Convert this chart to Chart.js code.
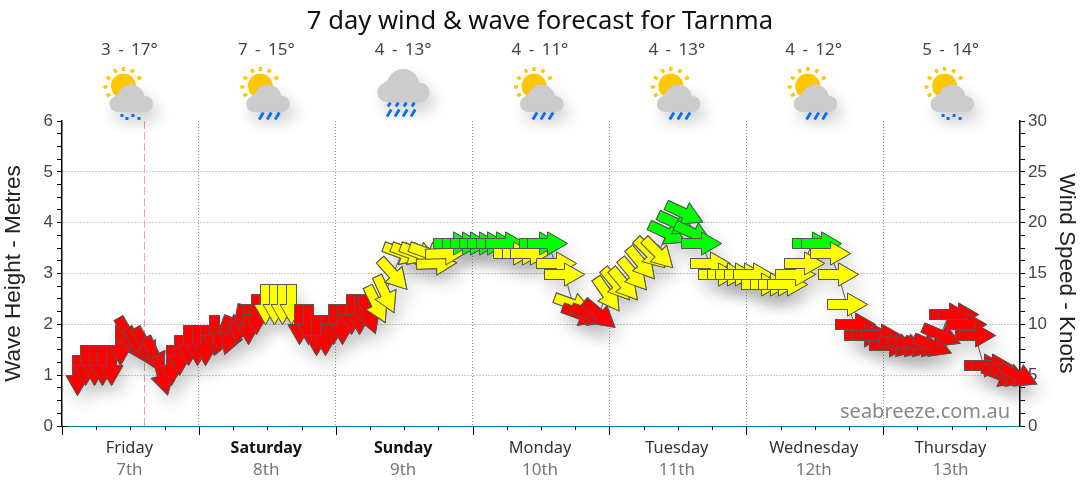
<!DOCTYPE html>
<html>
<head>
<meta charset="utf-8">
<title>7 day wind & wave forecast for Tarnma</title>
<script src="https://cdn.jsdelivr.net/npm/chart.js@4"></script>
<style>
    body { margin: 0; background: #fff; }
    #box { width: 1080px; height: 490px; }
</style>
</head>
<body>
<div id="box"><canvas id="myChart"></canvas></div>
<script>
// forecast values
const dayNames = ["Friday", "Saturday", "Sunday", "Monday", "Tuesday", "Wednesday", "Thursday"];
const dayDates = ["7th", "8th", "9th", "10th", "11th", "12th", "13th"];
const boldDays = ["Saturday", "Sunday"];
const dayTemps = ["3 - 17°", "7 - 15°", "4 - 13°", "4 - 11°", "4 - 13°", "4 - 12°", "5 - 14°"];
const dayIcons = ["drizzle", "rain", "heavy", "rain", "rain", "rain", "drizzle"];
const nowHours = [14.47, 14.47];
const nowKnots = [0, 30];

// hours since Friday 00:00
const hours = [
    2.6, 4.1, 5.6, 7.1, 8.6, 10.1, 11.6, 13.1, 14.6, 16.1, 17.6, 19.1, 20.6, 22.1, 23.6, 25.1,
    26.6, 28.1, 29.6, 31.1, 32.6, 34.1, 35.6, 37.1, 38.6, 40.1, 41.6, 43.1, 44.6, 46.1, 47.6, 49.1,
    50.6, 52.1, 53.6, 55.1, 56.6, 58.1, 59.6, 61.1, 62.6, 64.1, 65.6, 67.1, 68.6, 70.1, 71.6, 73.1,
    74.6, 76.1, 77.6, 79.1, 80.6, 82.1, 83.6, 85.1, 86.6, 88.1, 89.6, 91.1, 92.6, 94.1, 95.6, 97.1,
    98.6, 100.1, 101.6, 103.1, 104.6, 106.1, 107.6, 109.1, 110.6, 112.1, 113.6, 115.1, 116.6, 118.1, 119.6, 121.1,
    122.6, 124.1, 125.6, 127.1, 128.6, 130.1, 131.6, 133.1, 134.6, 136.1, 137.6, 139.1, 140.6, 142.1, 143.6, 145.1,
    146.6, 148.1, 149.6, 151.1, 152.6, 154.1, 155.6, 157.1, 158.6, 160.1, 161.6, 163.1, 164.6, 166.1, 167.6
];
const knots = [
    5, 6, 6, 6, 6, 8, 9, 8, 8, 7, 5, 6, 7, 8, 8, 8,
    9, 9, 9, 10, 10, 11, 12, 12, 12, 12, 10, 10, 9, 9, 10, 10,
    11, 11, 11, 12, 13, 15, 17, 17, 17, 17, 16, 17, 18, 18, 18, 18,
    18, 18, 18, 17, 17, 17, 18, 18, 16, 15, 12, 11, 11, 11, 13, 14,
    14, 15, 16, 17, 17, 19, 20, 21, 19, 18, 16, 15, 15, 15, 15, 15,
    14, 14, 14, 14, 15, 16, 18, 18, 17, 15, 12, 10, 9, 9, 9, 8,
    8, 8, 8, 8, 8, 9, 11, 11, 10, 9, 6, 6, 5, 5, 5
];
// compass direction the arrow points to, degrees
const headings = [
    180, 180, 180, 180, 180, 180, 150, 150, 150, 155, 165, 180, 180, 180, 180, 180,
    180, 200, 200, 190, 180, 180, 180, 180, 180, 180, 180, 180, 180, 180, 180, 180,
    180, 180, 160, 154, 155, 138, 110, 110, 110, 110, 88, 88, 90, 90, 90, 90,
    90, 90, 90, 90, 90, 90, 90, 90, 90, 90, 110, 110, 110, 130, 145, 140,
    140, 140, 140, 135, 135, 115, 115, 115, 115, 90, 90, 90, 90, 90, 90, 90,
    90, 90, 90, 90, 90, 90, 90, 90, 90, 90, 90, 90, 90, 90, 90, 90,
    105, 105, 105, 105, 112, 113, 90, 90, 90, 90, 90, 90, 112, 112, 115
];
const levels = [
    "r", "r", "r", "r", "r", "r", "r", "r", "r", "r", "r", "r", "r", "r", "r", "r",
    "r", "r", "r", "r", "r", "r", "y", "y", "y", "y", "r", "r", "r", "r", "r", "r",
    "r", "r", "r", "y", "y", "y", "y", "y", "y", "y", "y", "y", "g", "g", "g", "g",
    "g", "g", "g", "y", "y", "y", "g", "g", "y", "y", "y", "r", "r", "r", "y", "y",
    "y", "y", "y", "y", "y", "g", "g", "g", "g", "g", "y", "y", "y", "y", "y", "y",
    "y", "y", "y", "y", "y", "y", "g", "g", "y", "y", "y", "r", "r", "r", "r", "r",
    "r", "r", "r", "r", "r", "r", "r", "r", "r", "r", "r", "r", "r", "r", "r"
];
const levelColours = { r: "#ff0000", y: "#ffff00", g: "#00ff00" };

const sans = "'Noto Sans', sans-serif";
const arial = "'Liberation Sans', Arial, sans-serif";

// arrow pictures, one per colour and direction, kept so each is only drawn once
const arrowCache = {};
function makeArrow(colour, heading) {
    const key = colour + heading;
    if (arrowCache[key]) return arrowCache[key];
    const c = document.createElement("canvas");
    c.width = 50;
    c.height = 50;
    const g = c.getContext("2d");
    g.translate(25.5, 25.5);
    g.rotate(heading * Math.PI / 180);
    g.beginPath();
    g.moveTo(0, -20);
    g.lineTo(11.5, 0);
    g.lineTo(5, 0);
    g.lineTo(5, 20);
    g.lineTo(-5, 20);
    g.lineTo(-5, 0);
    g.lineTo(-11.5, 0);
    g.closePath();
    g.fillStyle = colour;
    g.fill();
    g.lineWidth = 1;
    g.lineJoin = "miter";
    g.strokeStyle = "#555";
    g.stroke();
    arrowCache[key] = c;
    return c;
}

const points = hours.map(function (h, i) {
    return { x: h, y: knots[i] };
});
const nowLine = nowHours.map(function (h, i) {
    return { x: h, y: nowKnots[i] };
});

function arrowStyle(ctx) {
    return makeArrow(levelColours[levels[ctx.dataIndex]], headings[ctx.dataIndex]);
}

// whole pixels keep the arrow pictures sharp, the "shadow" dataset also gets a soft shadow
const shadowLayer = {
    id: "shadowLayer",
    beforeDatasetDraw(chart, args) {
        const label = args.meta.label;
        if (label !== "shadow" && label !== "arrows") return;
        args.meta.data.forEach(function (p) {
            p.x = Math.round(p.x);
            p.y = Math.round(p.y);
        });
        if (label !== "shadow") return;
        const ctx = chart.ctx;
        ctx.save();
        ctx.shadowColor = "rgba(0,0,0,0.16)";
        ctx.shadowBlur = 18;
        ctx.shadowOffsetX = 5;
        ctx.shadowOffsetY = 10;
    },
    afterDatasetDraw(chart, args) {
        if (args.meta.label !== "shadow") return;
        chart.ctx.restore();
    },
};

function cloud(ctx, x, y, s) {
    ctx.beginPath();
    [[0, -14, 13.5], [-10, -10, 8.5], [-13.5, -8, 8], [14, -8, 8]].forEach(function (b) {
        ctx.moveTo(x + (b[0] + b[2]) * s, y + b[1] * s);
        ctx.arc(x + b[0] * s, y + b[1] * s, b[2] * s, 0, Math.PI * 2);
    });
    ctx.rect(x - 13.5 * s, y - 14 * s, 27.5 * s, 14 * s);
    ctx.fill();
}

const rayPlaces = [[-18, 1], [-15, -8], [-8, -15], [0, -17], [9, -15], [16, -8], [-15, 9]];

function sun(ctx, x, y) {
    ctx.fillStyle = "#ffc800";
    ctx.beginPath();
    ctx.arc(x, y, 12.5, 0, Math.PI * 2);
    ctx.fill();
    rayPlaces.forEach(function (r) {
        ctx.save();
        ctx.translate(x + r[0], y + r[1]);
        ctx.rotate(Math.atan2(r[1], r[0]));
        ctx.fillRect(-2, -1.7, 4, 3.4);
        ctx.restore();
    });
}

function drizzle(ctx, x, y) {
    ctx.fillStyle = "#0a6cf0";
    [[-11, 0], [-6, 3], [0, 0], [6, 3]].forEach(function (d) {
        ctx.fillRect(x + d[0], y + d[1], 3, 3);
    });
}

function slant(ctx, x, y, len) {
    ctx.beginPath();
    ctx.moveTo(x + len * 0.3, y);
    ctx.lineTo(x - len * 0.3, y + len);
    ctx.stroke();
}

function cloudShadow(ctx) {
    ctx.shadowColor = "rgba(0,0,0,0.2)";
    ctx.shadowBlur = 16;
    ctx.shadowOffsetX = 5;
    ctx.shadowOffsetY = 9;
    ctx.fillStyle = "#cccccc";
}

function drawIcon(ctx, x, kind) {
    ctx.save();
    if (kind === "heavy") {
        ctx.save();
        cloudShadow(ctx);
        cloud(ctx, x, 102, 1.2);
        ctx.restore();
        ctx.strokeStyle = "#0a6cf0";
        ctx.lineWidth = 2.8;
        [-14, -6, 2, 10].forEach(function (d) {
            slant(ctx, x + d, 102.5, 4);
            slant(ctx, x + d, 109.5, 7);
        });
    } else {
        sun(ctx, x - 6, 86);
        ctx.save();
        cloudShadow(ctx);
        cloud(ctx, x + 1.5, 112, 1);
        ctx.restore();
        if (kind === "drizzle") {
            drizzle(ctx, x + 2, 114);
        } else {
            ctx.strokeStyle = "#0a6cf0";
            ctx.lineWidth = 2.8;
            [-5, 3, 11].forEach(function (d) {
                slant(ctx, x + d, 112.5, 7);
            });
        }
    }
    ctx.restore();
}

function text(ctx, str, x, y, font, colour, align) {
    ctx.font = font;
    ctx.fillStyle = colour;
    ctx.textAlign = align || "center";
    ctx.textBaseline = "alphabetic";
    ctx.fillText(str, x, y);
}

// title, day headers, icons, day labels and the small x ticks
const dressing = {
    id: "dressing",
    afterDraw(chart) {
        const ctx = chart.ctx;
        const sx = chart.scales.x;
        ctx.save();
        text(ctx, "7 day wind & wave forecast for Tarnma", 540, 29, "25.6px " + sans, "#111");
        dayNames.forEach(function (name, d) {
            const mid = sx.getPixelForValue(d * 24 + 12) - 1;
            ctx.wordSpacing = "3px";
            text(ctx, dayTemps[d], mid, 55, "17px " + sans, "#444");
            ctx.wordSpacing = "0px";
            drawIcon(ctx, mid, dayIcons[d]);
            const bold = boldDays.indexOf(name) >= 0;
            text(ctx, name, mid, 453, (bold ? "bold 16px " : "16.4px ") + sans, bold ? "#111" : "#333");
            text(ctx, dayDates[d], mid, 475, "17px " + sans, "#777");
        });
        ctx.strokeStyle = "#000";
        ctx.lineWidth = 1;
        ctx.beginPath();
        for (let h = 0; h < 168; h += 6) {
            const px = Math.round(sx.getPixelForValue(h)) + 0.5;
            ctx.moveTo(px, 426.5);
            ctx.lineTo(px, h % 24 === 0 ? 435 : 430);
        }
        ctx.moveTo(62, 426.5);
        ctx.lineTo(68, 426.5);
        ctx.stroke();
        text(ctx, "seabreeze.com.au", 1010, 418, "20px " + sans, "#888", "right");
        ctx.restore();
    },
};

const wholeTick = function (step) {
    return function (ctx) {
        const v = ctx.tick.value;
        if (v <= 0 || v % step !== 0 || v >= step * 6) return "rgba(0,0,0,0)";
        return "#999";
    };
};

const config = {
    type: "scatter",
    data: {
        datasets: [
            {
                label: "arrows",
                data: points,
                yAxisID: "yWind",
                order: 1,
                clip: false,
                pointStyle: arrowStyle,
                pointRadius: 5,
            },
            {
                label: "shadow",
                data: points,
                yAxisID: "yWind",
                order: 2,
                clip: false,
                pointStyle: arrowStyle,
                pointRadius: 5,
            },
            {
                label: "line",
                data: points,
                yAxisID: "yWind",
                order: 3,
                showLine: true,
                borderColor: "#666",
                borderWidth: 1,
                pointRadius: 0,
            },
            {
                label: "now",
                data: nowLine,
                yAxisID: "yWind",
                order: 4,
                showLine: true,
                borderColor: "#ff9c9c",
                borderWidth: 1,
                borderDash: [8, 3],
                pointRadius: 0,
            },
        ],
    },
    options: {
        responsive: true,
        maintainAspectRatio: false,
        animation: false,
        events: [],
        layout: { padding: { top: 121, bottom: 0, left: 0, right: 0 } },
        plugins: { legend: { display: false }, tooltip: { enabled: false } },
        scales: {
            x: {
                type: "linear",
                min: 0,
                max: 168,
                afterBuildTicks: function (s) {
                    s.ticks = [];
                    for (let h = 0; h <= 168; h += 24) s.ticks.push({ value: h });
                },
                afterFit: function (s) { s.height = 64; },
                ticks: { display: false },
                grid: {
                    color: function (ctx) {
                        const v = ctx.tick.value;
                        return v > 0 && v < 168 ? "#999" : "rgba(0,0,0,0)";
                    },
                    drawTicks: false,
                },
                border: { color: "#0a7bb0", width: 1, dash: [1, 2] },
            },
            y: {
                position: "left",
                min: 0,
                max: 6,
                afterBuildTicks: function (s) {
                    s.ticks = [];
                    for (let v = 0; v <= 6; v += 0.25) s.ticks.push({ value: v });
                },
                afterFit: function (s) { s.width = 62; },
                ticks: {
                    autoSkip: false,
                    padding: 4,
                    color: "#444",
                    font: { family: arial, size: 17 },
                    callback: function (v) { return v % 1 === 0 ? v : ""; },
                },
                title: {
                    display: true,
                    text: "Wave Height - Metres",
                    color: "#222",
                    font: { family: arial, size: 22.5 },
                    padding: 0,
                },
                grid: { color: wholeTick(1), tickColor: "#000", tickLength: 5 },
                border: { color: "#000", width: 1.5, dash: [1, 2] },
            },
            yWind: {
                position: "right",
                min: 0,
                max: 30,
                afterBuildTicks: function (s) {
                    s.ticks = [];
                    for (let v = 0; v <= 30; v += 1.25) s.ticks.push({ value: v });
                },
                afterFit: function (s) { s.width = 60; },
                ticks: {
                    autoSkip: false,
                    padding: 3,
                    color: "#444",
                    font: { family: arial, size: 17 },
                    callback: function (v) { return v % 5 === 0 ? v : ""; },
                },
                title: {
                    display: true,
                    text: "Wind Speed - Knots",
                    color: "#222",
                    font: { family: arial, size: 22.5 },
                    padding: 0,
                },
                grid: { drawOnChartArea: false, tickColor: "#000", tickLength: 5 },
                border: { color: "#000", width: 1.5 },
            },
        },
    },
    plugins: [shadowLayer, dressing],
};

const myChart = new Chart(document.getElementById("myChart"), config);
</script>
</body>
</html>
